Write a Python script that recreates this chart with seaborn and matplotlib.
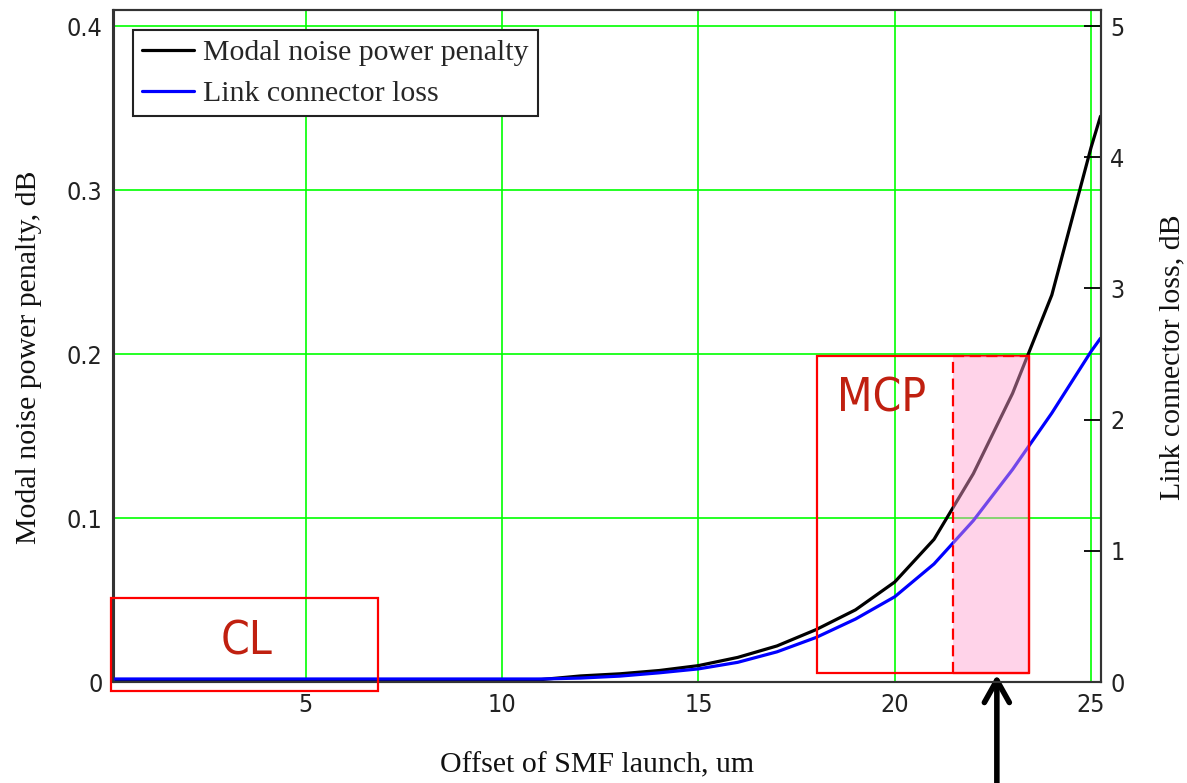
import matplotlib
matplotlib.use("Agg")
import matplotlib.pyplot as plt
import seaborn as sns
import pandas as pd
from matplotlib.patches import Rectangle

# ---------------- data ----------------
offset_um = [0, 1, 2, 3, 4, 5, 6, 7, 8, 9, 10, 11, 12, 13, 14, 15, 16, 17,
             18, 19, 20, 21, 22, 23, 24, 25, 25.24]
modal_noise_db = [0.0012, 0.0012, 0.0012, 0.0012, 0.0012, 0.0012, 0.0012,
                  0.0012, 0.0012, 0.0012, 0.0012, 0.0015, 0.0037, 0.005,
                  0.007, 0.010, 0.015, 0.022, 0.032, 0.044, 0.061, 0.087,
                  0.127, 0.176, 0.236, 0.326, 0.345]
connector_loss_db = [0.023, 0.023, 0.023, 0.023, 0.023, 0.023, 0.023, 0.023,
                     0.023, 0.023, 0.023, 0.023, 0.03, 0.045, 0.07, 0.10,
                     0.15, 0.23, 0.34, 0.48, 0.65, 0.90, 1.23, 1.62, 2.05,
                     2.52, 2.62]

series_labels = ["Modal noise power penalty", "Link connector loss"]
x_ticks = [5, 10, 15, 20, 25]
left_ticks = [0, 0.1, 0.2, 0.3, 0.4]
left_tick_labels = ["0", "0.1", "0.2", "0.3", "0.4"]
right_ticks = [0, 1, 2, 3, 4, 5]
right_tick_labels = ["0", "1", "2", "3", "4", "5"]

# annotation regions (x range in um, y range on left axis in dB)
cl_box = (0.04, 6.84, -0.0055, 0.0512)
mcp_box = (18.01, 23.41, 0.0055, 0.1988)
mcp_split = 21.48
arrow_x = 22.6

df = pd.DataFrame({"offset": offset_um, "modal": modal_noise_db,
                   "loss": connector_loss_db})

# ---------------- style ----------------
sns.set_style("white")
plt.rcParams["font.family"] = ["Liberation Serif", "DejaVu Serif"]

fig = plt.figure(figsize=(11.87, 7.83), dpi=100)
ax = fig.add_axes([113.5 / 1187, 101 / 783, 987 / 1187, 672 / 783])
ax2 = ax.twinx()

sns.lineplot(data=df, x="offset", y="modal", ax=ax, color="black", lw=2.3,
             legend=False)
sns.lineplot(data=df, x="offset", y="loss", ax=ax2, color="#0000FF", lw=2.3,
             legend=False)

ax.set_xlim(0.1, 25.24)
ax.set_ylim(0, 0.4098)
ax2.set_ylim(0, 0.4098 * 12.5)

# grid
ax.set_xticks(x_ticks)
ax.set_yticks(left_ticks)
ax.set_yticklabels(left_tick_labels)
ax.grid(True, color="#00FF00", lw=1.2)
ax.set_axisbelow(True)
ax2.set_yticks(right_ticks)
ax2.set_yticklabels(right_tick_labels)
ax2.grid(False)

tick_font = ["DejaVu Sans", "Liberation Sans"]
for lab in ax.get_xticklabels() + ax.get_yticklabels() + ax2.get_yticklabels():
    lab.set_family(tick_font)
    lab.set_stretch("condensed")
    lab.set_fontsize(18)
    lab.set_color("#222222")

ax.tick_params(axis="x", length=0, pad=8)
ax.tick_params(axis="y", length=0, pad=8)
ax2.tick_params(axis="y", direction="in", length=12, width=1.3,
                color="black", pad=7)

for a in (ax, ax2):
    for sp in a.spines.values():
        sp.set_color("#333333")
        sp.set_linewidth(1.5)
        sp.set_visible(True)

# axis labels
ax.set_xlabel("Offset of SMF launch, um", fontsize=21.5, color="#111111")
ax.xaxis.set_label_coords(0.49, -0.105)
ax.set_ylabel("Modal noise power penalty, dB", fontsize=21.5, color="#111111")
ax.yaxis.set_label_coords(-0.072, 0.484)
ax2.set_ylabel("Link connector loss, dB", fontsize=21.5, color="#111111")
ax2.yaxis.set_label_coords(1.06, 0.484)

# annotation boxes (drawn in left-axis data coords, on top of the curves)
red = "#FF0000"
ax2.add_patch(Rectangle((cl_box[0], cl_box[2]), cl_box[1] - cl_box[0],
                        cl_box[3] - cl_box[2], transform=ax.transData,
                        fill=False, ec=red, lw=1.6, clip_on=False, zorder=5))
ax2.add_patch(Rectangle((mcp_box[0], mcp_box[2]), mcp_box[1] - mcp_box[0],
                        mcp_box[3] - mcp_box[2], transform=ax.transData,
                        fill=False, ec=red, lw=1.6, zorder=5))
ax2.add_patch(Rectangle((mcp_split, mcp_box[2]), mcp_box[1] - mcp_split,
                        mcp_box[3] - mcp_box[2], transform=ax.transData,
                        fc="#ff9fd0", alpha=0.45, ec="none", zorder=6))
ax2.plot([mcp_split, mcp_split], [mcp_box[2], mcp_box[3]],
         transform=ax.transData, color=red, lw=1.6, ls=(0, (5, 2.5)), zorder=7)
ax2.plot([mcp_split, mcp_box[1]], [mcp_box[3], mcp_box[3]],
         transform=ax.transData, color=red, lw=1.6, ls=(0, (5, 2.5)), zorder=7)
ax2.plot([mcp_box[1], mcp_box[1], mcp_split], [mcp_box[3], mcp_box[2], mcp_box[2]],
         transform=ax.transData, color=red, lw=1.6, zorder=7)

label_font = ["DejaVu Sans", "Liberation Sans"]
ax2.text(3.49, 0.0245, "CL", transform=ax.transData, family=label_font,
         stretch="condensed", fontsize=33, color="#C02010", ha="center",
         va="center", zorder=8)
ax2.text(19.67, 0.1726, "MCP", transform=ax.transData, family=label_font,
         stretch="condensed", fontsize=33, color="#C02010", ha="center",
         va="center", zorder=8)

# arrow pointing to the shaded region
ax.annotate("", xy=(arrow_x, 0.0045), xycoords="data",
            xytext=(arrow_x, 0.0), textcoords=("data", "figure fraction"),
            arrowprops=dict(arrowstyle="->,head_length=1.6,head_width=0.9",
                            lw=4, color="black", shrinkA=0, shrinkB=0,
                            mutation_scale=10),
            annotation_clip=False, zorder=9)

# legend
h1 = ax.get_lines()[0]
h2 = ax2.get_lines()[0]
leg = ax2.legend([h1, h2], series_labels, loc="upper left",
                 bbox_to_anchor=(0.0198, 0.970), borderaxespad=0,
                 fontsize=21.5, frameon=True, fancybox=False,
                 handlelength=1.75, handletextpad=0.3, borderpad=0.3,
                 labelspacing=0.47, framealpha=1)
leg.get_frame().set_edgecolor("#222222")
leg.get_frame().set_linewidth(1.5)
leg.set_zorder(20)

fig.savefig("out.png", dpi=100)
